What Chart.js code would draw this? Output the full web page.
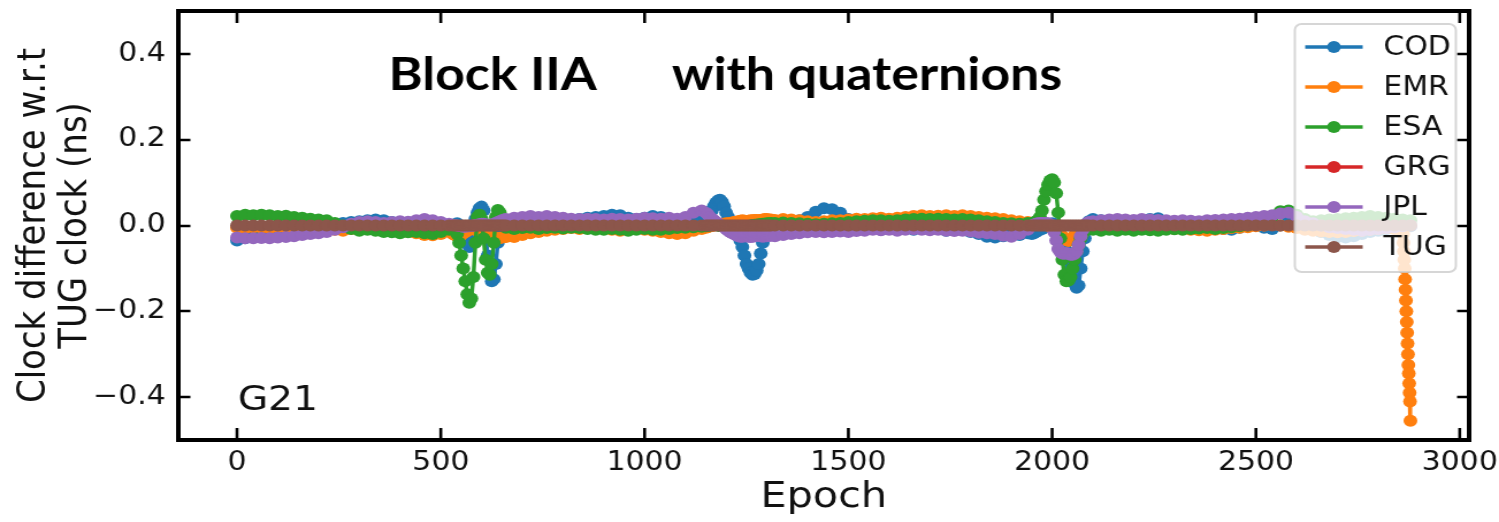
<!DOCTYPE html>
<html><head><meta charset="utf-8">
<script src="https://cdn.jsdelivr.net/npm/chart.js@4.4.1/dist/chart.umd.min.js"></script>
<style>html,body{margin:0;padding:0;background:#fff;overflow:hidden}canvas{display:block}</style>
</head><body>
<!-- the reference figure is horizontally stretched (~1.15x); the canvas is drawn at 1303 px and shown at 1499 px -->
<canvas id="c" width="1303" height="522" style="width:1499px;height:522px"></canvas>
<script>
// ---------------- data ----------------
const seriesNames = ['COD', 'EMR', 'ESA', 'GRG', 'JPL', 'TUG'];
const seriesColors = ['#1f77b4', '#ff7f0e', '#2ca02c', '#d62728', '#9467bd', '#8c564b'];

const epochs = [
  0,20,40,60,80,100,120,140,160,180,200,220,240,260,280,300,320,340,360,380,400,420,440,460,480,500,520,
  530,535,540,545,550,555,560,565,570,575,580,585,590,595,600,605,610,615,620,625,630,635,640,645,650,655,660,
  680,700,720,740,760,780,800,820,840,860,880,900,920,940,960,980,1000,1020,1040,1060,1080,1100,1120,1140,
  1150,1155,1160,1165,1170,1175,1180,1185,1190,1195,1200,1205,1210,1215,1220,1225,1230,1235,1240,1245,1250,1255,1260,1265,1270,1275,1280,1285,1290,1295,1300,1305,1310,
  1320,1340,1360,1380,1400,1420,1440,1460,1480,1500,1520,1540,1560,1580,1600,1620,1640,1660,1680,1700,1720,1740,1760,1780,1800,1820,1840,1860,1880,1900,1920,1940,
  1950,1955,1960,1965,1970,1975,1980,1985,1990,1995,2000,2005,2010,2015,2020,2025,2030,2035,2040,2045,2050,2055,2060,2065,2070,2075,2080,2085,2090,
  2100,2120,2140,2160,2180,2200,2220,2240,2260,2280,2300,2320,2340,2360,2380,2400,2420,2440,2460,2480,2500,2520,2540,2560,2580,2600,2620,2640,2660,2680,2700,2720,2740,2760,2780,2800,2820,2840,2860,
  2879
];

const codValues = [
  -0.035,-0.03,-0.025,-0.02,-0.02,-0.015,-0.018,-0.012,-0.01,-0.008,-0.005,0.0,0.004,0.006,0.008,0.01,0.012,0.014,0.012,0.008,0.005,0.002,0.0,-0.004,-0.006,-0.004,0.0,
  0.0,0.002,0.005,0.0,-0.01,-0.02,-0.03,-0.04,-0.05,-0.04,-0.01,0.015,0.03,0.04,0.044,0.035,-0.02,-0.07,-0.11,-0.13,-0.125,-0.09,-0.04,-0.01,0.0,0.004,0.006,
  0.01,0.012,0.015,0.012,0.015,0.018,0.015,0.012,0.015,0.018,0.02,0.022,0.025,0.024,0.018,0.015,0.018,0.022,0.02,0.015,0.012,0.015,0.012,0.015,
  0.018,0.02,0.025,0.035,0.045,0.053,0.058,0.06,0.055,0.045,0.03,0.02,0.01,0.005,0.0,-0.008,-0.02,-0.035,-0.05,-0.07,-0.09,-0.1,-0.11,-0.115,-0.113,-0.105,-0.09,-0.065,-0.04,-0.022,-0.01,-0.004,0.0,
  0.0,0.005,0.008,0.012,0.02,0.032,0.04,0.038,0.03,0.015,0.005,0.0,-0.005,-0.01,-0.008,-0.005,-0.008,-0.01,-0.006,-0.004,-0.008,-0.012,-0.01,-0.008,-0.015,-0.02,-0.026,-0.028,-0.025,-0.02,-0.022,-0.018,
  -0.02,-0.018,-0.015,-0.012,-0.01,-0.008,-0.005,-0.002,0.0,0.003,0.005,0.004,0.0,-0.008,-0.02,-0.035,-0.05,-0.065,-0.08,-0.1,-0.12,-0.135,-0.145,-0.14,-0.1,-0.06,-0.03,-0.005,0.01,
  0.015,0.012,0.008,0.005,0.008,0.01,0.012,0.015,0.017,0.01,0.005,0.0,-0.003,-0.005,-0.004,-0.006,-0.008,-0.01,-0.005,0.0,0.004,-0.005,-0.008,0.0,0.01,0.015,0.005,-0.005,-0.015,-0.022,-0.027,-0.028,-0.025,-0.02,-0.015,-0.012,-0.008,-0.005,-0.003,
  -0.002
];

const emrValues = [
  -0.005,-0.006,-0.004,-0.005,-0.006,-0.004,-0.005,-0.006,-0.005,-0.006,-0.007,-0.008,-0.01,-0.012,-0.008,-0.006,-0.008,-0.01,-0.012,-0.012,-0.014,-0.015,-0.018,-0.022,-0.023,-0.02,-0.015,
  -0.02,-0.022,-0.025,-0.024,-0.022,-0.018,-0.015,-0.012,-0.01,-0.008,-0.008,-0.01,-0.012,-0.014,-0.015,-0.018,-0.02,-0.022,-0.025,-0.027,-0.028,-0.03,-0.03,-0.029,-0.028,-0.027,-0.027,
  -0.027,-0.022,-0.018,-0.015,-0.012,-0.01,-0.008,-0.006,-0.008,-0.006,-0.005,-0.008,-0.01,-0.012,-0.01,-0.008,-0.01,-0.012,-0.015,-0.018,-0.02,-0.018,-0.012,-0.008,
  -0.005,-0.004,-0.002,-0.001,0.0,0.001,0.002,0.003,0.004,0.004,0.005,0.005,0.006,0.007,0.008,0.009,0.01,0.011,0.012,0.011,0.01,0.011,0.012,0.012,0.013,0.013,0.012,0.013,0.014,0.015,0.015,0.014,0.014,
  0.013,0.015,0.014,0.012,0.01,0.008,0.01,0.012,0.012,0.014,0.016,0.015,0.017,0.018,0.016,0.018,0.02,0.022,0.024,0.022,0.023,0.024,0.022,0.024,0.022,0.02,0.018,0.017,0.015,0.012,0.01,0.008,
  0.006,0.006,0.005,0.004,0.004,0.003,0.002,0.001,0.0,-0.002,-0.005,-0.008,-0.01,-0.015,-0.02,-0.025,-0.03,-0.034,-0.036,-0.034,-0.03,-0.022,-0.015,-0.01,-0.005,-0.002,0.0,0.001,0.002,
  0.003,0.004,0.002,0.0,-0.002,-0.003,-0.004,-0.005,-0.004,-0.006,-0.008,-0.009,-0.01,-0.011,-0.012,-0.01,-0.008,-0.006,-0.005,-0.004,-0.002,0.0,0.002,0.0,-0.003,-0.006,-0.01,-0.012,-0.014,-0.015,-0.016,-0.015,-0.013,-0.012,-0.01,-0.008,-0.006,-0.008,-0.012,
  -0.455
];
// EMR has extra epochs at the very end of the day (the sharp drop)
const emrTailEpochs = [2861,2862,2863,2864,2865,2866,2867,2868,2869,2870,2871,2872,2873,2874,2875,2876,2877,2878];
const emrTailValues = [-0.02,-0.04,-0.06,-0.08,-0.1,-0.125,-0.15,-0.175,-0.2,-0.225,-0.25,-0.275,-0.3,-0.325,-0.345,-0.368,-0.39,-0.41];

const esaValues = [
  0.022,0.025,0.024,0.025,0.024,0.022,0.023,0.02,0.018,0.016,0.014,0.012,0.006,0.0,-0.008,-0.012,-0.01,-0.012,-0.015,-0.016,-0.018,-0.016,-0.015,-0.018,-0.02,-0.015,-0.01,
  -0.008,-0.01,-0.02,-0.04,-0.07,-0.1,-0.13,-0.16,-0.18,-0.17,-0.12,-0.04,0.02,0.025,0.015,-0.03,-0.08,-0.11,-0.115,-0.09,-0.04,0.02,0.036,0.03,0.01,0.0,-0.005,
  -0.008,-0.006,-0.005,-0.008,-0.006,-0.005,-0.007,-0.005,-0.006,-0.008,-0.01,-0.01,-0.008,-0.01,-0.012,-0.01,-0.008,-0.01,-0.01,-0.008,-0.006,-0.005,-0.004,-0.003,
  -0.002,-0.001,0.0,0.001,0.002,0.001,0.0,-0.001,-0.002,-0.003,-0.004,-0.005,-0.005,-0.006,-0.006,-0.005,-0.005,-0.004,-0.004,-0.003,-0.002,-0.001,0.0,0.001,0.002,0.002,0.003,0.003,0.004,0.004,0.005,0.005,0.006,
  0.006,0.007,0.006,0.005,0.004,0.003,0.004,0.005,0.006,0.008,0.01,0.011,0.012,0.012,0.011,0.012,0.014,0.015,0.016,0.015,0.016,0.015,0.014,0.015,0.014,0.012,0.01,0.008,0.006,0.005,0.004,0.006,
  0.005,0.006,0.01,0.012,0.02,0.035,0.06,0.08,0.095,0.105,0.108,0.1,0.075,0.03,-0.03,-0.08,-0.115,-0.13,-0.128,-0.12,-0.1,-0.08,-0.06,-0.045,-0.03,-0.02,-0.012,-0.01,-0.008,
  -0.01,-0.012,-0.01,-0.012,-0.01,-0.012,-0.01,-0.011,-0.012,-0.01,-0.009,-0.01,-0.008,-0.007,-0.006,-0.008,-0.006,-0.004,-0.002,0.0,0.003,0.008,0.02,0.033,0.035,0.025,0.015,0.01,0.012,0.014,0.015,0.017,0.018,0.02,0.022,0.02,0.018,0.016,0.014,
  0.012
];

const grgValues = [];

const jplValues = [
  -0.028,-0.03,-0.03,-0.029,-0.03,-0.028,-0.027,-0.025,-0.022,-0.02,-0.018,-0.015,-0.01,-0.004,0.004,0.008,0.01,0.008,0.006,0.008,0.01,0.009,0.012,0.015,0.012,0.008,0.004,
  0.002,0.001,0.0,-0.001,-0.002,-0.003,-0.003,-0.002,-0.002,-0.001,0.0,0.001,0.002,0.003,0.004,0.004,0.003,0.001,0.0,0.002,0.004,0.006,0.008,0.01,0.012,0.014,0.015,
  0.018,0.02,0.022,0.02,0.022,0.02,0.018,0.016,0.015,0.016,0.015,0.014,0.016,0.015,0.014,0.016,0.018,0.017,0.016,0.018,0.016,0.02,0.03,0.035,
  0.03,0.026,0.02,0.016,0.012,0.008,0.005,0.002,0.0,-0.004,-0.008,-0.012,-0.015,-0.018,-0.02,-0.023,-0.025,-0.026,-0.026,-0.025,-0.025,-0.026,-0.027,-0.026,-0.025,-0.024,-0.024,-0.025,-0.026,-0.025,-0.025,-0.024,-0.024,
  -0.025,-0.022,-0.02,-0.018,-0.016,-0.015,-0.016,-0.015,-0.014,-0.015,-0.013,-0.012,-0.01,-0.011,-0.01,-0.012,-0.01,-0.009,-0.01,-0.011,-0.01,-0.012,-0.013,-0.012,-0.014,-0.017,-0.018,-0.02,-0.024,-0.026,-0.02,-0.01,
  0.0,0.002,0.004,0.005,0.006,0.006,0.006,0.006,0.005,0.003,0.0,-0.015,-0.035,-0.055,-0.062,-0.065,-0.066,-0.064,-0.066,-0.068,-0.068,-0.066,-0.06,-0.045,-0.025,-0.01,0.0,0.005,0.008,
  0.01,0.012,0.014,0.015,0.014,0.013,0.015,0.014,0.013,0.012,0.011,0.012,0.011,0.01,0.012,0.013,0.014,0.015,0.016,0.018,0.02,0.022,0.024,0.028,0.03,0.02,0.01,0.005,0.0,-0.004,-0.006,-0.008,-0.01,-0.012,-0.01,-0.008,-0.006,-0.004,-0.002,
  0.0
];

const tugValues = [
  0,0,0,0,0,0,0,0,0,0,0,0,0,0,0,0,0,0,0,0,0,0,0,0,0,0,0,
  0,0,0,0,0,0,0,0,0,0,0,0,0,0,0,0,0,0,0,0,0,0,0,0,0,0,0,
  0,0,0,0,0,0,0,0,0,0,0,0,0,0,0,0,0,0,0,0,0,0,0,0,
  0,0,0,0,0,0,0,0,0,0,0,0,0,0,0,0,0,0,0,0,0,0,0,0,0,0,0,0,0,0,0,0,0,
  0,0,0,0,0,0,0,0,0,0,0,0,0,0,0,0,0,0,0,0,0,0,0,0,0,0,0,0,0,0,0,0,
  0,0,0,0,0,0,0,0,0,0,0,0,0,0,0,0,0,0,0,0,0,0,0,0,0,0,0,0,0,
  0,0,0,0,0,0,0,0,0,0,0,0,0,0,0,0,0,0,0,0,0,0,0,0,0,0,0,0,0,0,0,0,0,0,0,0,0,0,0,
  0
];

const xTicks = [0, 500, 1000, 1500, 2000, 2500, 3000];
const xTickLabels = ['0', '500', '1000', '1500', '2000', '2500', '3000'];
const yTicks = [-0.4, -0.2, 0.0, 0.2, 0.4];
const yTickLabels = ['\u22120.4', '\u22120.2', '0.0', '0.2', '0.4'];

const xLabel = 'Epoch';
const yLabel = ['Clock difference w.r.t', 'TUG clock (ns)'];
const titleLeft = 'Block IIA';
const titleRight = 'with quaternions';
const satLabel = 'G21';

// ---------------- checks ----------------
[['COD', codValues], ['EMR', emrValues], ['ESA', esaValues], ['JPL', jplValues], ['TUG', tugValues]].forEach(([n, a]) => {
  if (a.length !== epochs.length) throw new Error(n + ' length ' + a.length + ' != ' + epochs.length);
});

// ---------------- build ----------------
const toPts = (xs, ys) => xs.map((e, i) => ({x: e, y: ys[i]}));
const emrPts = toPts(epochs, emrValues).concat(toPts(emrTailEpochs, emrTailValues)).sort((a, b) => a.x - b.x);
const seriesPoints = [
  toPts(epochs, codValues),
  emrPts,
  toPts(epochs, esaValues),
  toPts([], grgValues),
  toPts(epochs, jplValues),
  toPts(epochs, tugValues)
];

const datasets = seriesNames.map((name, i) => ({
  label: name,
  data: seriesPoints[i],
  borderColor: seriesColors[i],
  backgroundColor: seriesColors[i],
  borderWidth: 3.5,
  pointRadius: 6,
  pointBorderWidth: 0,
  pointHoverRadius: 6,
  tension: 0,
  order: seriesNames.length - i   // later series drawn on top (like matplotlib)
}));

const TICK_FONT = {family: 'DejaVu Sans', size: 26};
const TEXT_COLOR = '#111';

const decorPlugin = {
  id: 'decor',
  afterDatasetsDraw(chart) {
    const {ctx, chartArea: a, scales: {x, y}} = chart;
    ctx.save();
    ctx.strokeStyle = '#000';
    ctx.lineWidth = 2.6;
    const tlx = 12, tly = 10.5;
    ctx.beginPath();
    xTicks.forEach(v => {
      const px = x.getPixelForValue(v);
      ctx.moveTo(px, a.bottom); ctx.lineTo(px, a.bottom - tlx);
      ctx.moveTo(px, a.top); ctx.lineTo(px, a.top + tlx);
    });
    yTicks.forEach(v => {
      const py = Math.round(y.getPixelForValue(v));
      ctx.moveTo(a.left, py); ctx.lineTo(a.left + tly, py);
      ctx.moveTo(a.right, py); ctx.lineTo(a.right - tly, py);
    });
    ctx.stroke();
    ctx.lineWidth = 4;
    ctx.strokeRect(a.left, a.top, a.right - a.left, a.bottom - a.top);

    // annotations (placed in data coordinates)
    ctx.fillStyle = '#000';
    ctx.textBaseline = 'alphabetic';
    ctx.textAlign = 'left';
    ctx.font = 'bold 45px Lato';
    ctx.fillText(titleLeft, x.getPixelForValue(372), y.getPixelForValue(0.317));
    ctx.fillText(titleRight, x.getPixelForValue(1067), y.getPixelForValue(0.317));
    ctx.font = '34px "DejaVu Sans"';
    ctx.fillStyle = TEXT_COLOR;
    ctx.fillText(satLabel, x.getPixelForValue(2), y.getPixelForValue(-0.43));
    ctx.restore();
  },
  afterDraw(chart) {
    // legend box (upper right, semi-transparent like matplotlib)
    const {ctx, chartArea: a} = chart;
    const bw = 140, bx = a.right - 11.5 - bw, by = a.top + 13, bh = 248, r = 6;
    ctx.save();
    ctx.beginPath();
    ctx.roundRect(bx, by, bw, bh, r);
    ctx.fillStyle = 'rgba(255,255,255,0.8)';
    ctx.fill();
    ctx.strokeStyle = 'rgba(204,204,204,0.8)';
    ctx.lineWidth = 2;
    ctx.stroke();
    chart.data.datasets.forEach((ds, i) => {
      const cy = by + 23 + i * 40;
      ctx.strokeStyle = ds.borderColor;
      ctx.lineWidth = 3.5;
      ctx.beginPath();
      ctx.moveTo(bx + 9, cy); ctx.lineTo(bx + 59, cy);
      ctx.stroke();
      ctx.fillStyle = ds.backgroundColor;
      ctx.beginPath();
      ctx.arc(bx + 34, cy, 6, 0, Math.PI * 2);
      ctx.fill();
      ctx.fillStyle = TEXT_COLOR;
      ctx.font = '26px "DejaVu Sans"';
      ctx.textAlign = 'left';
      ctx.textBaseline = 'middle';
      ctx.fillText(ds.label, bx + 77, cy + 1);
    });
    ctx.restore();
  }
};

new Chart(document.getElementById('c'), {
  type: 'line',
  data: {datasets},
  options: {
    responsive: false,
    devicePixelRatio: 1,
    animation: false,
    events: [],
    layout: {padding: {left: 0, right: 26, top: 11, bottom: 0}},
    plugins: {legend: {display: false}, tooltip: {enabled: false}},
    scales: {
      x: {
        type: 'linear',
        min: -144,
        max: 3023,
        grid: {display: false, drawTicks: false},
        border: {display: false},
        afterBuildTicks: (s) => { s.ticks = xTicks.map(v => ({value: v})); },
        afterFit: (s) => { s.height = 82; s.paddingLeft = 0; s.paddingRight = 0; },
        ticks: {
          autoSkip: false, maxRotation: 0, padding: 8,
          font: TICK_FONT, color: TEXT_COLOR,
          callback: (v, i) => xTickLabels[i]
        },
        title: {display: true, text: xLabel, font: {family: 'DejaVu Sans', size: 36}, color: TEXT_COLOR, padding: {top: 0, bottom: 3}}
      },
      y: {
        type: 'linear',
        min: -0.5,
        max: 0.5,
        grid: {display: false, drawTicks: false},
        border: {display: false},
        afterBuildTicks: (s) => { s.ticks = yTicks.map(v => ({value: v})); },
        afterFit: (s) => { s.width = 155; s.paddingTop = 0; s.paddingBottom = 0; },
        ticks: {
          padding: 11,
          font: TICK_FONT, color: TEXT_COLOR,
          callback: (v, i) => yTickLabels[i]
        },
        title: {display: true, text: yLabel, font: {family: 'DejaVu Sans', size: 34, lineHeight: 1.05}, color: TEXT_COLOR, padding: {top: 12.5, bottom: 0}}
      }
    }
  },
  plugins: [decorPlugin]
});
</script>
</body></html>
